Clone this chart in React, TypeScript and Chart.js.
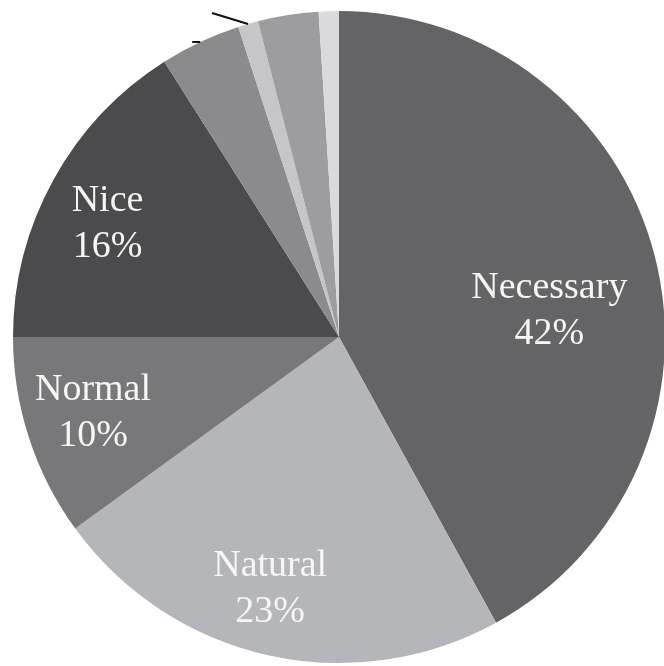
import React, { useEffect, useRef } from "react";
import { Chart, registerables } from "chart.js";

Chart.register(...registerables);

const categories = ["Necessary", "Natural", "Normal", "Nice", "Other A", "Other B", "Other C", "Other D"];
const shares = [42, 23, 10, 16, 4, 1, 3, 1];
const labelTexts = ["42%", "23%", "10%", "16%", "", "", "", ""];
const showLabel = [true, true, true, true, false, false, false, false];
const sliceColors = ["#646466", "#b5b6ba", "#78787a", "#4b4b4d", "#8b8b8e", "#c6c6c9", "#9d9da0", "#dadadc"];
// label placement: fraction of radius, angular offset (deg)
const labelRadius = [0.65, 0.8, 0.79, 0.79, 0, 0, 0, 0];
const labelAngleOffset = [7.4, 2.7, 0.8, -2.8, 0, 0, 0, 0];
const leaderSlices = [4, 5];

const labelPlugin = {
  id: "sliceLabels",
  afterDatasetsDraw(chart: any) {
    const ctx = chart.ctx;
    const meta = chart.getDatasetMeta(0);
    ctx.save();
    // leader line stubs
    ctx.strokeStyle = "#111";
    ctx.lineWidth = 2;
    leaderSlices.forEach((i) => {
      const arc = meta.data[i];
      const mid = (arc.startAngle + arc.endAngle) / 2;
      const sx = arc.x + Math.cos(mid) * arc.outerRadius;
      const sy = arc.y + Math.sin(mid) * arc.outerRadius;
      ctx.beginPath();
      ctx.moveTo(sx, sy);
      if (i === 5) ctx.lineTo(sx - 36, sy - 11);
      else ctx.lineTo(sx - 8, sy);
      ctx.stroke();
    });
    ctx.font = "38px 'Liberation Serif', 'Times New Roman', serif";
    ctx.fillStyle = "#f6f6f6";
    ctx.textAlign = "center";
    ctx.textBaseline = "middle";
    meta.data.forEach((arc: any, i: number) => {
      if (!showLabel[i]) return;
      const mid = (arc.startAngle + arc.endAngle) / 2 + (labelAngleOffset[i] * Math.PI) / 180;
      const r = arc.outerRadius * labelRadius[i];
      const x = arc.x + Math.cos(mid) * r;
      const y = arc.y + Math.sin(mid) * r;
      ctx.fillText(categories[i], x, y - 23);
      ctx.fillText(labelTexts[i], x, y + 23);
    });
    ctx.restore();
  },
};

export default function App() {
  const ref = useRef<HTMLCanvasElement>(null);
  useEffect(() => {
    if (!ref.current) return;
    const chart = new Chart(ref.current, {
      type: "pie",
      data: {
        labels: categories,
        datasets: [
          {
            data: shares,
            backgroundColor: sliceColors,
            borderWidth: 0,
          },
        ],
      },
      options: {
        responsive: false,
        animation: false,
        devicePixelRatio: 1,
        layout: { padding: { left: 13, top: 11, right: 15, bottom: 17 } },
        plugins: { legend: { display: false }, tooltip: { enabled: false } },
      },
      plugins: [labelPlugin],
    });
    return () => chart.destroy();
  }, []);
  return (
    <div style={{ position: "fixed", left: 0, top: 0, width: 664, height: 666, overflow: "hidden", background: "#fff" }}>
      <canvas ref={ref} width={680} height={680} style={{ display: "block" }} />
    </div>
  );
}
